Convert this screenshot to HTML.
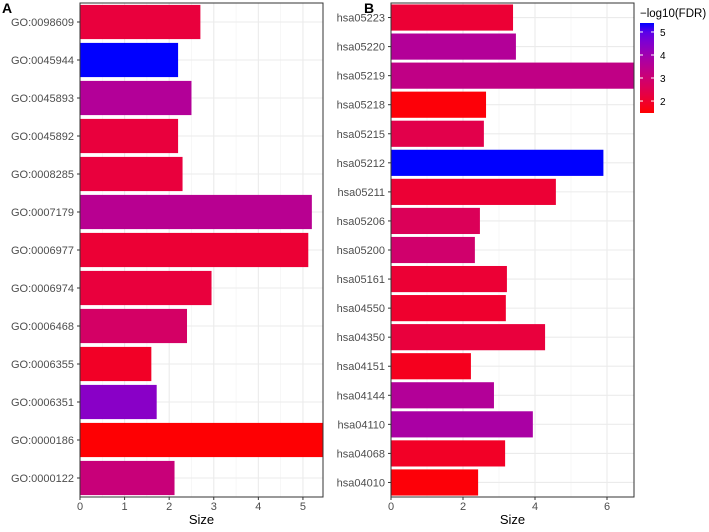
<!DOCTYPE html>
<html><head><meta charset="utf-8"><style>
body{margin:0;background:#fff;font-family:"Liberation Sans",sans-serif}
svg text{font-family:"Liberation Sans",sans-serif}
</style></head><body>
<svg id="c" width="709" height="527"></svg>
<script>
const catsA=["GO:0098609","GO:0045944","GO:0045893","GO:0045892","GO:0008285","GO:0007179","GO:0006977","GO:0006974","GO:0006468","GO:0006355","GO:0006351","GO:0000186","GO:0000122"];
const sizeA=[2.7,2.2,2.5,2.2,2.3,5.2,5.12,2.95,2.4,1.6,1.72,5.45,2.12];
const fdrA=[2.2,5.39,3.6,2.2,2.2,3.5,2.1,2.2,2.8,1.9,4.4,1.5,3.1];
const catsB=["hsa05223","hsa05220","hsa05219","hsa05218","hsa05215","hsa05212","hsa05211","hsa05206","hsa05200","hsa05161","hsa04550","hsa04350","hsa04151","hsa04144","hsa04110","hsa04068","hsa04010"];
const sizeB=[3.39,3.47,6.75,2.64,2.58,5.9,4.58,2.47,2.33,3.22,3.19,4.28,2.22,2.86,3.94,3.17,2.42];
const fdrB=[2.1,3.6,3.3,1.55,2.4,5.39,2.1,2.6,2.9,2.1,2.0,2.2,1.8,3.6,3.8,1.9,1.55];
const ticksA=[0,1,2,3,4,5];
const ticksB=[0,2,4,6];
const legendTicks=[2,3,4,5];
const NS="http://www.w3.org/2000/svg";
const svg=document.getElementById('c');
function mk(t,a,p){const e=document.createElementNS(NS,t);for(const k in a)e.setAttribute(k,a[k]);(p||svg).appendChild(e);return e;}
const FMIN=1.48,FMAX=5.39;
function col(v){let t=Math.max(0,Math.min(1,(v-FMIN)/(FMAX-FMIN)));const r=Math.round(255*Math.pow(1-t,0.45)),b=Math.round(255*Math.pow(t,0.85));return `rgb(${r},0,${b})`;}
function panel(name,cats,sizes,fdrs,ticks,x0,x1,xmax,top,bot,letter,lx){
  const g=mk('g',{});
  
  
  const sx=v=>x0+(v/xmax)*(x1-x0);
  const band=(bot-top)/cats.length;
  for(let i=0;i<ticks.length;i++){const m=(ticks[i]+(ticks[1]-ticks[0])/2);if(m<xmax)mk('line',{x1:sx(m),x2:sx(m),y1:top,y2:bot,stroke:'#f2f2f2','stroke-width':0.6},g);}
  ticks.forEach(t=>{const l=mk('line',{x1:sx(t),x2:sx(t),y1:top,y2:bot,stroke:'#ebebeb','stroke-width':1.1},g);});
  cats.forEach((c,i)=>{const y=top+band*(i+0.5);mk('line',{x1:x0,x2:x1,y1:y,y2:y,stroke:'#ebebeb','stroke-width':1.1},g);});
  cats.forEach((c,i)=>{
    const y=top+band*i+band*0.05;
    const r=mk('rect',{x:x0,y:y,width:sx(sizes[i])-x0,height:band*0.9,fill:col(fdrs[i])},g);
    
    
    const tx=mk('text',{x:x0-6,y:top+band*(i+0.5)+4,'text-anchor':'end','font-size':11,fill:'#4d4d4d'},g);
    tx.textContent=c;
    
    
    mk('line',{x1:x0-3,x2:x0,y1:top+band*(i+0.5),y2:top+band*(i+0.5),stroke:'#333','stroke-width':1},g);
  });
  mk('rect',{x:x0,y:top,width:x1-x0,height:bot-top,fill:'none',stroke:'#333','stroke-width':1},g);
  ticks.forEach(t=>{mk('line',{x1:sx(t),x2:sx(t),y1:bot,y2:bot+3,stroke:'#333'},g);
    const tx=mk('text',{x:sx(t),y:bot+13,'text-anchor':'middle','font-size':11,fill:'#4d4d4d'},g);tx.textContent=t;
    });
  const xt=mk('text',{x:(x0+x1)/2,y:bot+27,'text-anchor':'middle','font-size':13,fill:'#000'},g);xt.textContent='Size';
  
  const L=mk('text',{x:lx,y:13,'font-size':14,'font-weight':'bold',fill:'#000'},g);L.textContent=letter;
  
}
panel('panel-a-go-terms',catsA,sizeA,fdrA,ticksA,80,323,5.45,3,497,'A',2);
panel('panel-b-kegg-pathways',catsB,sizeB,fdrB,ticksB,391,634,6.75,3,497,'B',364);
const lg=mk('g',{});


const defs=mk('defs',{},lg);
const grad=mk('linearGradient',{id:'gr',x1:0,y1:1,x2:0,y2:0},defs);
for(let i=0;i<=10;i++){const v=FMIN+(FMAX-FMIN)*i/10;mk('stop',{offset:i/10,'stop-color':col(v)},grad);}
const lt=mk('text',{x:640,y:17,'font-size':11.5,fill:'#000'},lg);lt.textContent='\u2212log10(FDR)';

const LT=23,LB=113;const ly=v=>LB-(v-FMIN)/(FMAX-FMIN)*(LB-LT);
mk('rect',{x:640,y:LT,width:14,height:LB-LT,fill:'url(#gr)'},lg);
legendTicks.forEach(t=>{mk('line',{x1:640,x2:643,y1:ly(t),y2:ly(t),stroke:'#fff'},lg);mk('line',{x1:651,x2:654,y1:ly(t),y2:ly(t),stroke:'#fff'},lg);
  const tx=mk('text',{x:660,y:ly(t)+4,'font-size':10,fill:'#000'},lg);tx.textContent=t;
  });
</script>
</body></html>
